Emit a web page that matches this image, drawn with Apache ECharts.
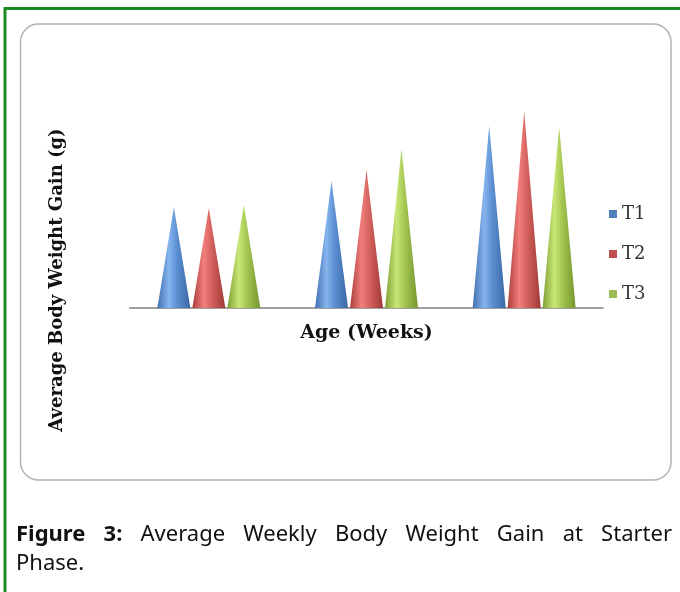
<!DOCTYPE html>
<html>
<head>
<meta charset="utf-8">
<style>
  html, body { margin: 0; padding: 0; background: #fff; }
  #chart { width: 680px; height: 592px; }
</style>
<script src="https://cdn.jsdelivr.net/npm/echarts@6/dist/echarts.min.js"></script>
</head>
<body>
<div id="chart"></div>
<script>
// data (no axis labels shown, units arbitrary)
const weeks = ["Week 1", "Week 2", "Week 3"];
const seriesNames = ["T1", "T2", "T3"];
const t1 = [10.1, 12.7, 18.2];
const t2 = [10.0, 13.8, 19.7];
const t3 = [10.3, 15.9, 18.1];

const xTitle = "Age (Weeks)";
const yTitle = "Average Body Weight Gain (g)";
const captionLine1 = "Average Weekly Body Weight Gain at Starter";
const captionLine2 = "Phase.";

const serif = "'DejaVu Serif', 'Liberation Serif', serif";
const capFont = "'Noto Sans', 'Open Sans', sans-serif";

// cone shading: dark edge, highlight, dark edge
function cone(dark, light, mid, edge) {
  return {
    type: "linear", x: 0, y: 0, x2: 1, y2: 0,
    colorStops: [
      { offset: 0, color: dark },
      { offset: 0.35, color: light },
      { offset: 0.6, color: mid },
      { offset: 1, color: edge }
    ]
  };
}
const fills = [
  cone("#3f6fae", "#86b4ee", "#5b8fd2", "#3a66a2"),
  cone("#a93e3b", "#f17f7b", "#d2605c", "#a03936"),
  cone("#7d9e34", "#c9e777", "#a3c550", "#75962f")
];
const legendColors = ["#4F81BD", "#C0504D", "#9BBB59"];

// justified caption, words laid out with canvas text metrics
const measure = document.createElement("canvas").getContext("2d");
function wordWidth(txt, font) {
  measure.font = font;
  return measure.measureText(txt).width;
}
function captionGraphics() {
  const x0 = 16, x1 = 672, base1 = 540, base2 = 569;
  let size = 22, words, total, gap;
  // shrink until the gaps are at least a few px
  do {
    const boldFont = "bold " + size + "px " + capFont;
    const normFont = size + "px " + capFont;
    words = [{ t: "Figure", f: boldFont }, { t: "3:", f: boldFont }]
      .concat(captionLine1.split(" ").map(w => ({ t: w, f: normFont })));
    total = 0;
    words.forEach(w => { w.w = wordWidth(w.t, w.f); total += w.w; });
    gap = (x1 - x0 - total) / (words.length - 1);
    size -= 0.5;
  } while (gap < 7 && size > 14);
  size += 0.5;
  const out = [];
  let x = x0;
  const drop = Math.round(size * 0.27);
  words.forEach(w => {
    out.push({
      type: "text", x: x, y: base1 + drop,
      style: { text: w.t, font: w.f, fill: "#111", textVerticalAlign: "bottom" }
    });
    x += w.w + gap;
  });
  out.push({
    type: "text", x: x0, y: base2 + drop,
    style: { text: captionLine2, font: size + "px " + capFont, fill: "#111", textVerticalAlign: "bottom" }
  });
  return out;
}

const chart = echarts.init(document.getElementById("chart"));
const data = [t1, t2, t3];

chart.setOption({
  animation: false,
  grid: { left: 130, right: 77, top: 108, bottom: 284 },
  legend: {
    orient: "vertical",
    left: 604,
    top: 200,
    itemWidth: 8,
    itemHeight: 8,
    itemGap: 22,
    icon: "rect",
    textStyle: { fontFamily: serif, fontSize: 18, color: "#333" },
    data: seriesNames.map((n, i) => ({ name: n, itemStyle: { color: legendColors[i] } }))
  },
  xAxis: {
    type: "category",
    data: weeks,
    name: xTitle,
    nameLocation: "middle",
    nameGap: 16,
    nameTextStyle: { fontFamily: serif, fontWeight: "bold", fontSize: 19, color: "#111" },
    axisLine: { lineStyle: { color: "#a0a0a0", width: 2 } },
    axisTick: { show: false },
    axisLabel: { show: false }
  },
  yAxis: {
    type: "value",
    min: 0,
    max: 20,
    show: false
  },
  series: seriesNames.map((n, i) => ({
    name: n,
    type: "pictorialBar",
    data: data[i],
    barWidth: 33,
    barGap: "6%",
    symbol: "path://M0,100 L50,0 L100,100 Z",
    symbolSize: ["100%", "100%"],
    itemStyle: { color: fills[i] }
  })),
  graphic: [
    {
      type: "polyline",
      shape: { points: [[5, 592], [5, 8.5], [680, 8.5]] },
      style: { stroke: "#1b8a22", lineWidth: 3, fill: null }
    },
    {
      type: "rect",
      shape: { x: 20.5, y: 24, width: 650.5, height: 456, r: 18 },
      style: { stroke: "#b3b3b3", lineWidth: 1.5, fill: null }
    },
    {
      type: "text",
      x: 57,
      y: 280,
      rotation: Math.PI / 2,
      style: {
        text: yTitle,
        font: "bold 18px " + serif,
        fill: "#111",
        textAlign: "center",
        textVerticalAlign: "middle"
      }
    }
  ].concat(captionGraphics())
});
</script>
</body>
</html>
